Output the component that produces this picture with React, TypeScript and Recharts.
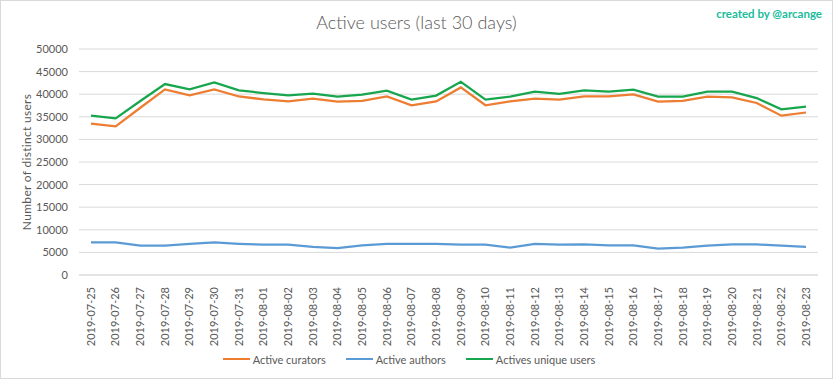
import React from 'react';
import { LineChart, Line, XAxis, YAxis, CartesianGrid, Legend } from 'recharts';

const dates = [
  '2019-07-25', '2019-07-26', '2019-07-27', '2019-07-28', '2019-07-29', '2019-07-30',
  '2019-07-31', '2019-08-01', '2019-08-02', '2019-08-03', '2019-08-04', '2019-08-05',
  '2019-08-06', '2019-08-07', '2019-08-08', '2019-08-09', '2019-08-10', '2019-08-11',
  '2019-08-12', '2019-08-13', '2019-08-14', '2019-08-15', '2019-08-16', '2019-08-17',
  '2019-08-18', '2019-08-19', '2019-08-20', '2019-08-21', '2019-08-22', '2019-08-23',
];

const curators = [
  33500, 32900, 37000, 41050, 39750, 41050, 39500, 38850, 38400, 39000,
  38350, 38550, 39500, 37550, 38400, 41500, 37550, 38400, 39000, 38800,
  39500, 39500, 39950, 38350, 38550, 39450, 39300, 38050, 35250, 35950,
];

const authors = [
  7200, 7200, 6500, 6500, 6900, 7200, 6900, 6700, 6700, 6200,
  5950, 6550, 6900, 6900, 6900, 6700, 6700, 6050, 6900, 6700,
  6750, 6550, 6550, 5850, 6050, 6500, 6750, 6750, 6500, 6200,
];

const uniqueUsers = [
  35250, 34650, 38500, 42250, 41050, 42600, 40850, 40250, 39750, 40100,
  39450, 39900, 40800, 38800, 39700, 42750, 38800, 39450, 40550, 40100,
  40850, 40550, 41000, 39450, 39450, 40550, 40550, 39150, 36650, 37250,
];

const yTicks = [0, 5000, 10000, 15000, 20000, 25000, 30000, 35000, 40000, 45000, 50000];

const COLORS = {
  curators: '#ED7D31',
  authors: '#5B9BD5',
  unique: '#17A64D',
  text: '#595959',
  grid: '#D9D9D9',
};

const FONT = 'Lato, "Liberation Sans", sans-serif';

const chartData = dates.map((d, i) => ({
  date: d,
  curators: curators[i],
  authors: authors[i],
  unique: uniqueUsers[i],
}));

// rotated date labels, reading bottom to top
const DateTick = (props: any) => {
  const { x, y, payload } = props;
  return (
    <text
      x={x}
      y={y}
      transform={`rotate(-90, ${x}, ${y})`}
      textAnchor="end"
      dy="0.35em"
      fill={COLORS.text}
      fontSize={11}
      fontFamily={FONT}
    >
      {payload.value}
    </text>
  );
};

const legendItems = [
  { label: 'Active curators', color: COLORS.curators },
  { label: 'Active authors', color: COLORS.authors },
  { label: 'Actives unique users', color: COLORS.unique },
];

const LegendContent = () => (
  <div style={{ display: 'flex', justifyContent: 'center', alignItems: 'center', gap: 20, height: 40 }}>
    {legendItems.map((item) => (
      <div key={item.label} style={{ display: 'flex', alignItems: 'center' }}>
        <span style={{ display: 'inline-block', width: 27, height: 2, background: item.color, marginRight: 3 }} />
        <span style={{ fontFamily: FONT, fontSize: 11, color: COLORS.text }}>{item.label}</span>
      </div>
    ))}
  </div>
);

export default function App() {
  return (
    <div
      style={{
        position: 'absolute',
        left: 0,
        top: 0,
        width: 833,
        height: 379,
        background: '#fff',
        boxShadow: 'inset 0 0 0 1px #D9D9D9',
        fontFamily: FONT,
      }}
    >
      <div
        style={{
          position: 'absolute',
          top: 11,
          left: 0,
          width: 833,
          textAlign: 'center',
          fontSize: 18,
          fontWeight: 300,
          color: COLORS.text,
        }}
      >
        Active users (last 30 days)
      </div>
      <div
        style={{
          position: 'absolute',
          top: 7,
          right: 11,
          fontSize: 11.5,
          fontWeight: 'bold',
          color: '#1ABC9C',
        }}
      >
        created by @arcange
      </div>
      <LineChart
        width={833}
        height={379}
        data={chartData}
        margin={{ top: 49, right: 15, left: 0, bottom: 0 }}
      >
        <CartesianGrid vertical={false} stroke={COLORS.grid} strokeWidth={1} />
        <XAxis
          dataKey="date"
          interval={0}
          height={64}
          padding={{ left: 12, right: 12 }}
          tickLine={false}
          axisLine={{ stroke: COLORS.grid }}
          tick={<DateTick />}
          tickMargin={6}
        />
        <YAxis
          width={79}
          domain={[0, 50000]}
          ticks={yTicks}
          interval={0}
          tickLine={false}
          axisLine={false}
          tickSize={0}
          tickMargin={11}
          tick={{ fill: COLORS.text, fontSize: 11, fontFamily: FONT }}
          label={{
            value: 'Number of distinct users',
            angle: -90,
            position: 'insideLeft',
            offset: 27,
            fill: COLORS.text,
            fontSize: 12,
            fontFamily: FONT,
            style: { textAnchor: 'middle', letterSpacing: '0.3px' },
          }}
        />
        <Legend verticalAlign="bottom" height={40} content={<LegendContent />} />
        <Line
          type="linear"
          dataKey="curators"
          stroke={COLORS.curators}
          strokeWidth={2.25}
          dot={false}
          isAnimationActive={false}
        />
        <Line
          type="linear"
          dataKey="authors"
          stroke={COLORS.authors}
          strokeWidth={2.25}
          dot={false}
          isAnimationActive={false}
        />
        <Line
          type="linear"
          dataKey="unique"
          stroke={COLORS.unique}
          strokeWidth={2.25}
          dot={false}
          isAnimationActive={false}
        />
      </LineChart>
    </div>
  );
}
